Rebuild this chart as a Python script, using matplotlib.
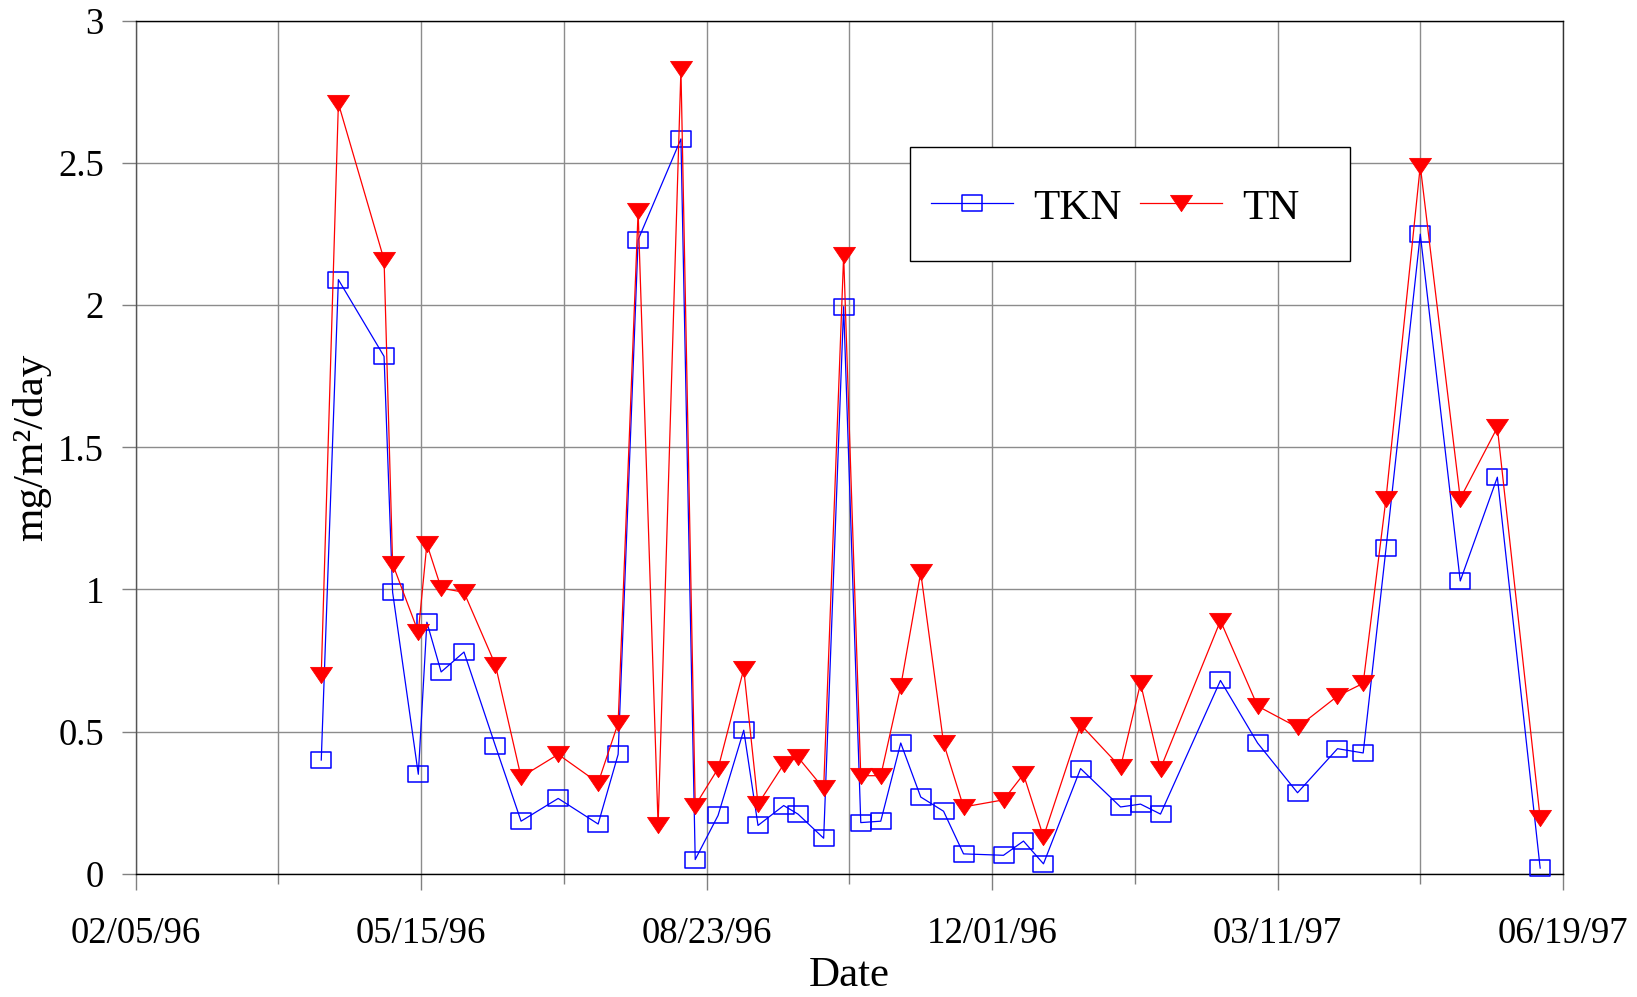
import matplotlib
matplotlib.use("Agg")
import matplotlib.pyplot as plt
import matplotlib.dates as mdates
from matplotlib.path import Path
from matplotlib.patches import Rectangle
from matplotlib.ticker import FuncFormatter
import pandas as pd

plt.rcParams["font.family"] = ["Liberation Serif", "DejaVu Serif"]

# sampling dates (TN has one extra sample on 1996-08-06)
tn_dates = [
    "1996-04-10", "1996-04-16", "1996-05-02", "1996-05-05", "1996-05-14",
    "1996-05-17", "1996-05-22", "1996-05-30", "1996-06-10", "1996-06-19",
    "1996-07-02", "1996-07-16", "1996-07-23", "1996-07-30", "1996-08-06",
    "1996-08-14", "1996-08-19", "1996-08-27", "1996-09-05", "1996-09-10",
    "1996-09-19", "1996-09-24", "1996-10-03", "1996-10-10", "1996-10-16",
    "1996-10-23", "1996-10-30", "1996-11-06", "1996-11-14", "1996-11-21",
    "1996-12-05", "1996-12-12", "1996-12-19", "1997-01-01", "1997-01-15",
    "1997-01-22", "1997-01-29", "1997-02-19", "1997-03-04", "1997-03-18",
    "1997-04-01", "1997-04-10", "1997-04-18", "1997-04-30", "1997-05-14",
    "1997-05-27", "1997-06-11",
]
tn = [
    0.70, 2.71, 2.16, 1.09, 0.85,
    1.16, 1.005, 0.99, 0.735, 0.34,
    0.42, 0.32, 0.53, 2.33, 0.17,
    2.83, 0.24, 0.37, 0.72, 0.245,
    0.385, 0.41, 0.30, 2.175, 0.345,
    0.345, 0.66, 1.06, 0.46, 0.235,
    0.26, 0.35, 0.13, 0.525, 0.375,
    0.67, 0.37, 0.89, 0.59, 0.515,
    0.625, 0.67, 1.32, 2.49, 1.32,
    1.57, 0.195,
]

tkn_dates = [d for d in tn_dates if d != "1996-08-06"]
tkn = [
    0.40, 2.09, 1.82, 0.99, 0.35,
    0.885, 0.71, 0.78, 0.45, 0.185,
    0.265, 0.175, 0.42, 2.23,
    2.585, 0.05, 0.205, 0.505, 0.17,
    0.24, 0.21, 0.125, 1.995, 0.18,
    0.185, 0.46, 0.27, 0.22, 0.07,
    0.065, 0.115, 0.035, 0.37, 0.235,
    0.245, 0.21, 0.68, 0.46, 0.285,
    0.44, 0.425, 1.145, 2.25, 1.03,
    1.395, 0.02,
]

x_start = pd.Timestamp("1996-02-05")
x_end = pd.Timestamp("1997-06-19")

# markers are a bit wider than tall
box = Path([(-1, -0.74), (1, -0.74), (1, 0.74), (-1, 0.74), (-1, -0.74)], closed=True)
tri = Path([(-1, 0.74), (1, 0.74), (0, -0.74), (-1, 0.74)], closed=True)

fig = plt.figure(figsize=(16.37, 9.97), dpi=100)
ax = fig.add_axes([0.0829, 0.1236, 0.8719, 0.8554])

ax.plot(pd.to_datetime(tkn_dates), tkn, color="blue", lw=0.9, marker=box, ms=14.6,
        mfc="none", mec="blue", mew=1.1, label="TKN", clip_on=False, zorder=3)
ax.plot(pd.to_datetime(tn_dates), tn, color="red", lw=0.9, marker=tri, ms=15.8,
        mfc="red", mec="red", mew=0.6, label="TN", clip_on=False, zorder=4)

ax.set_xlim(mdates.date2num(x_start), mdates.date2num(x_end))
ax.set_ylim(0, 3)

major = [x_start + pd.Timedelta(days=100 * k) for k in range(6)]
minor = [x_start + pd.Timedelta(days=50 + 100 * k) for k in range(5)]
ax.set_xticks(mdates.date2num(major))
ax.set_xticks(mdates.date2num(minor), minor=True)
ax.xaxis.set_major_formatter(mdates.DateFormatter("%m/%d/%y"))
ax.set_yticks([0, 0.5, 1, 1.5, 2, 2.5, 3])
ax.yaxis.set_major_formatter(FuncFormatter(lambda v, p: "%g" % v))

ax.grid(True, which="major", color="#8c8c8c", lw=1.0)
ax.grid(True, which="minor", axis="x", color="#8c8c8c", lw=1.0)
ax.set_axisbelow(True)

ax.tick_params(axis="y", direction="out", length=10, width=1, color="#808080",
               pad=13, labelsize=26.5)
ax.tick_params(axis="x", which="major", direction="out", length=11.5, width=1,
               color="#808080", pad=19.5, labelsize=26.5)
ax.tick_params(axis="x", which="minor", direction="out", length=7, width=1,
               color="#808080")

ax.spines["left"].set_color("#555555")
ax.spines["right"].set_color("#333333")
ax.spines["top"].set_color("black")
ax.spines["bottom"].set_color("black")
for s in ax.spines.values():
    s.set_linewidth(1.0)

ax.set_xlabel("Date", fontsize=31)
ax.xaxis.set_label_coords(0.5, -0.097)
ax.set_ylabel("mg/m²/day", fontsize=31)
ax.yaxis.set_label_coords(-0.0594, 0.5)

# legend frame drawn separately so the padding can differ left/right
frame = Rectangle((910 / 1637, 1 - 261 / 997), 440 / 1637, 114 / 997,
                  transform=fig.transFigure, facecolor="white", edgecolor="black",
                  lw=1.0, zorder=4.8)
ax.add_artist(frame)
ax.legend(loc="center left", bbox_to_anchor=(931 / 1637, 1 - 208 / 997),
          bbox_transform=fig.transFigure, ncol=2, frameon=False, fontsize=31,
          handlelength=1.9, handletextpad=0.48, columnspacing=0.42,
          borderpad=0, borderaxespad=0)

fig.savefig("out.png", dpi=100)
